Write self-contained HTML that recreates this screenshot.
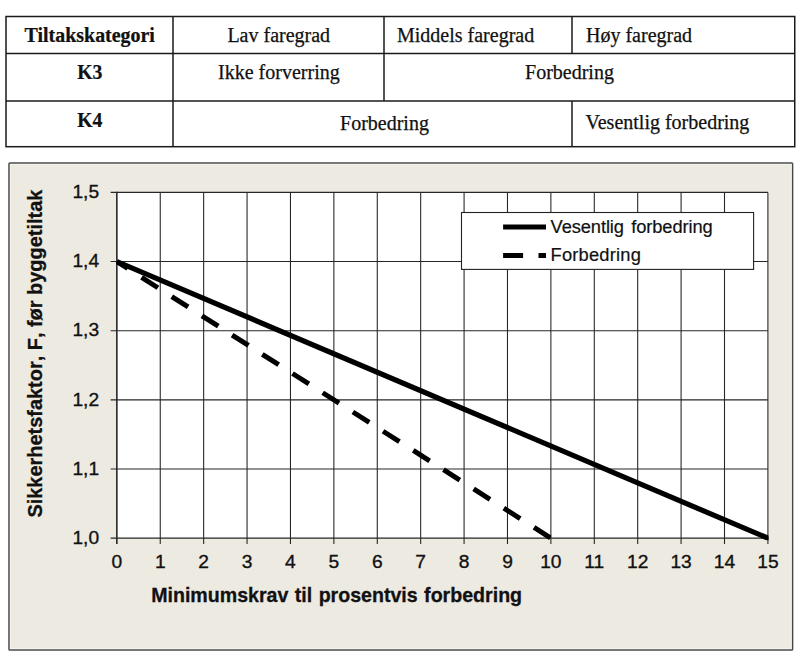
<!DOCTYPE html>
<html lang="no">
<head>
<meta charset="utf-8">
<title>Tiltakskategori og krav til forbedring</title>
<style>
html,body{margin:0;padding:0;background:#fff;}
body{width:800px;height:668px;overflow:hidden;}
svg{display:block;}
.t{font-family:"Liberation Serif", "Times New Roman", Times, serif;font-size:20px;fill:#111;stroke:#111;stroke-width:0.25px;}
.tb{font-family:"Liberation Serif", "Times New Roman", Times, serif;font-size:20.3px;font-weight:bold;fill:#111;stroke:#111;stroke-width:0.25px;}
.a{font-family:"Liberation Sans", Arial, Helvetica, sans-serif;font-size:18.3px;fill:#111;stroke:#111;stroke-width:0.2px;}
.k{font-family:"Liberation Sans", Arial, Helvetica, sans-serif;font-size:19.2px;fill:#111;stroke:#111;stroke-width:0.35px;}
.ab{font-family:"Liberation Sans", Arial, Helvetica, sans-serif;font-weight:bold;fill:#111;stroke:#111;stroke-width:0.3px;}
</style>
</head>
<body>
<svg width="800" height="668" viewBox="0 0 800 668">
<rect x="0" y="0" width="800" height="668" fill="#ffffff"/>
<g stroke="#1a1a1a" stroke-width="1.5" fill="none">
<rect x="6.0" y="16.5" width="788.75" height="130.2"/>
<line x1="6.0" y1="53.4" x2="794.75" y2="53.4"/>
<line x1="6.0" y1="100.9" x2="794.75" y2="100.9"/>
<line x1="173.0" y1="16.5" x2="173.0" y2="146.7"/>
<line x1="384.0" y1="16.5" x2="384.0" y2="100.9"/>
<line x1="572.0" y1="16.5" x2="572.0" y2="53.4"/>
<line x1="572.0" y1="100.9" x2="572.0" y2="146.7"/>
</g>
<text class="tb" text-anchor="middle" transform="translate(89.75 42.3) scale(0.982 1)">Tiltakskategori</text>
<text class="t" x="278.75" y="41.8" text-anchor="middle">Lav faregrad</text>
<text class="t" x="397" y="41.8" text-anchor="start">Middels faregrad</text>
<text class="t" x="586" y="41.8" text-anchor="start">Høy faregrad</text>
<text class="tb" text-anchor="middle" transform="translate(89.75 79.0) scale(0.97 1)">K3</text>
<text class="t" x="278.9" y="78.8" text-anchor="middle" font-size="19.8">Ikke forverring</text>
<text class="t" x="569.5" y="78.8" text-anchor="middle">Forbedring</text>
<text class="tb" text-anchor="middle" transform="translate(89.75 127.4) scale(0.97 1)">K4</text>
<text class="t" x="384.5" y="129.6" text-anchor="middle">Forbedring</text>
<text class="t" x="585.5" y="128.8" text-anchor="start" font-size="20.15">Vesentlig forbedring</text>
<rect x="9" y="163" width="783.6" height="487" rx="0.8" ry="0.8" fill="#edeae2" stroke="#484848" stroke-width="1.5"/>
<rect x="10.4" y="164.4" width="780.8" height="484.2" fill="none" stroke="#f7f5f0" stroke-width="1" stroke-opacity="0.75"/>
<rect x="116.85" y="192.4" width="651.05" height="345.80000000000007" fill="#ffffff"/>
<g stroke="#262626" stroke-width="1.08" fill="none">
<line x1="160.25" y1="192.4" x2="160.25" y2="544.00"/>
<line x1="203.66" y1="192.4" x2="203.66" y2="544.00"/>
<line x1="247.06" y1="192.4" x2="247.06" y2="544.00"/>
<line x1="290.46" y1="192.4" x2="290.46" y2="544.00"/>
<line x1="333.87" y1="192.4" x2="333.87" y2="544.00"/>
<line x1="377.27" y1="192.4" x2="377.27" y2="544.00"/>
<line x1="420.67" y1="192.4" x2="420.67" y2="544.00"/>
<line x1="464.08" y1="192.4" x2="464.08" y2="544.00"/>
<line x1="507.48" y1="192.4" x2="507.48" y2="544.00"/>
<line x1="550.88" y1="192.4" x2="550.88" y2="544.00"/>
<line x1="594.29" y1="192.4" x2="594.29" y2="544.00"/>
<line x1="637.69" y1="192.4" x2="637.69" y2="544.00"/>
<line x1="681.09" y1="192.4" x2="681.09" y2="544.00"/>
<line x1="724.50" y1="192.4" x2="724.50" y2="544.00"/>
<line x1="767.90" y1="192.4" x2="767.90" y2="544.00"/>
<line x1="110.65" y1="192.40" x2="767.9" y2="192.40"/>
<line x1="110.65" y1="261.56" x2="767.9" y2="261.56"/>
<line x1="110.65" y1="330.72" x2="767.9" y2="330.72"/>
<line x1="110.65" y1="399.88" x2="767.9" y2="399.88"/>
<line x1="110.65" y1="469.04" x2="767.9" y2="469.04"/>
</g>
<line x1="116.85" y1="191.8" x2="116.85" y2="544.00" stroke="#262626" stroke-width="1.6"/>
<line x1="110.65" y1="538.2" x2="768.4" y2="538.2" stroke="#262626" stroke-width="1.3"/>
<defs><clipPath id="cd"><rect x="116.14999999999999" y="192.4" width="435.43" height="347.80"/></clipPath><clipPath id="cs"><rect x="116.14999999999999" y="192.4" width="652.35" height="347.80"/></clipPath></defs>
<line clip-path="url(#cd)" x1="116.85" y1="261.56" x2="554.26" y2="540.35" stroke="#000" stroke-width="5" stroke-dasharray="19.4 16.4" stroke-dashoffset="6.5"/>
<line clip-path="url(#cs)" x1="116.85" y1="261.56" x2="771.58" y2="539.76" stroke="#000" stroke-width="5.2"/>
<rect x="461.5" y="212.5" width="292.1" height="56.9" fill="#ffffff" stroke="#222" stroke-width="1.1"/>
<line x1="503.1" y1="227.1" x2="546" y2="227.1" stroke="#000" stroke-width="5"/>
<line x1="503.1" y1="255.6" x2="546" y2="255.6" stroke="#000" stroke-width="5" stroke-dasharray="20 15.4"/>
<text class="a" x="550.6" y="232.5" text-anchor="start" word-spacing="2.4" letter-spacing="-0.1">Vesentlig forbedring</text>
<text class="a" x="550.6" y="260.7" text-anchor="start" letter-spacing="0.2">Forbedring</text>
<text class="k" x="99.1" y="198.15" text-anchor="end">1,5</text>
<text class="k" x="99.1" y="267.31" text-anchor="end">1,4</text>
<text class="k" x="99.1" y="336.47" text-anchor="end">1,3</text>
<text class="k" x="99.1" y="405.63" text-anchor="end">1,2</text>
<text class="k" x="99.1" y="474.79" text-anchor="end">1,1</text>
<text class="k" x="99.1" y="543.95" text-anchor="end">1,0</text>
<text class="k" x="116.85" y="568.4" text-anchor="middle">0</text>
<text class="k" x="160.25" y="568.4" text-anchor="middle">1</text>
<text class="k" x="203.66" y="568.4" text-anchor="middle">2</text>
<text class="k" x="247.06" y="568.4" text-anchor="middle">3</text>
<text class="k" x="290.46" y="568.4" text-anchor="middle">4</text>
<text class="k" x="333.87" y="568.4" text-anchor="middle">5</text>
<text class="k" x="377.27" y="568.4" text-anchor="middle">6</text>
<text class="k" x="420.67" y="568.4" text-anchor="middle">7</text>
<text class="k" x="464.08" y="568.4" text-anchor="middle">8</text>
<text class="k" x="507.48" y="568.4" text-anchor="middle">9</text>
<text class="k" x="550.88" y="568.4" text-anchor="middle">10</text>
<text class="k" x="594.29" y="568.4" text-anchor="middle">11</text>
<text class="k" x="637.69" y="568.4" text-anchor="middle">12</text>
<text class="k" x="681.09" y="568.4" text-anchor="middle">13</text>
<text class="k" x="724.5" y="568.4" text-anchor="middle">14</text>
<text class="k" x="767.9" y="568.4" text-anchor="middle">15</text>
<text class="ab" font-size="20.1" word-spacing="1.0" transform="translate(151.2 601.9) scale(0.975 1)">Minimumskrav til prosentvis forbedring</text>
<text class="ab" font-size="19.95" word-spacing="0" style="font-kerning:none" text-anchor="start" transform="translate(42.3 517.6) rotate(-90)">Sikkerhetsfaktor, F, før byggetiltak</text>
</svg>
</body>
</html>
